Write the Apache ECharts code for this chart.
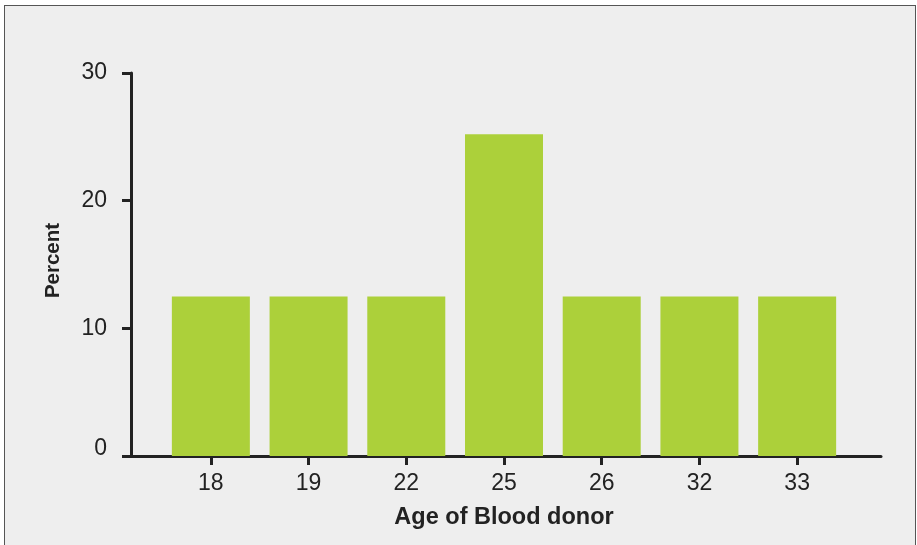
<!DOCTYPE html>
<html>
<head>
<meta charset="utf-8">
<script src="https://cdn.jsdelivr.net/npm/echarts@6/dist/echarts.min.js"></script>
<style>
  html, body { margin: 0; padding: 0; background: #ffffff; }
  #frame { position: absolute; left: 4px; top: 5px; width: 910px; height: 560px;
           border: 1px solid #555555; background: #eeeeee; }
  #chart { position: absolute; left: 0; top: 0; width: 917px; height: 545px; }
</style>
</head>
<body>
<div id="frame"></div>
<div id="chart"></div>
<script>
const categories = ['18', '19', '22', '25', '26', '32', '33'];
const percentValues = [12.5, 12.5, 12.5, 25.2, 12.5, 12.5, 12.5];
const yTicks = { min: 0, max: 30, interval: 10 };
const xTitle = 'Age of Blood donor';
const yTitle = 'Percent';

const FONT = '"Liberation Sans", Arial, Helvetica, sans-serif';
const INK = '#222222';

const chart = echarts.init(document.getElementById('chart'), null, { renderer: 'canvas' });
chart.setOption({
  backgroundColor: 'transparent',
  animation: false,
  grid: [
    { left: 131, right: 36, top: 73, bottom: 89, containLabel: false },
    { left: 162, right: 71, top: 73, bottom: 89, containLabel: false }
  ],
  xAxis: [
    {
      gridIndex: 0, type: 'value', min: 0, max: 1,
      axisLine: { show: true, lineStyle: { color: INK, width: 3 } },
      axisTick: { show: false }, axisLabel: { show: false }, splitLine: { show: false }
    },
    {
      gridIndex: 1, type: 'category', data: categories,
      axisLine: { show: false },
      axisTick: { show: true, alignWithLabel: true, length: 9, lineStyle: { color: INK, width: 3 } },
      axisLabel: { color: INK, fontSize: 23, fontFamily: FONT, margin: 16 },
      splitLine: { show: false },
      name: xTitle, nameLocation: 'middle', nameGap: 50,
      nameTextStyle: { color: INK, fontSize: 23.5, fontWeight: 'bold', fontFamily: FONT }
    }
  ],
  yAxis: [
    {
      gridIndex: 0, type: 'value', min: yTicks.min, max: yTicks.max, interval: yTicks.interval,
      axisLine: { show: true, lineStyle: { color: INK, width: 3 } },
      axisTick: { show: true, length: 9, lineStyle: { color: INK, width: 3 } },
      axisLabel: {
        color: INK, fontSize: 23, fontFamily: FONT, margin: 24,
        formatter: function (v) { return v === 0 ? '{z|0}' : String(v); },
        rich: { z: { color: INK, fontSize: 23, fontFamily: FONT, padding: [0, 0, 15, 0] } }
      },
      splitLine: { show: false },
      name: yTitle, nameLocation: 'middle', nameGap: 67, nameRotate: 90,
      nameTextStyle: { color: INK, fontSize: 20.5, fontWeight: 'bold', fontFamily: FONT, padding: [0, 0, 0, 8] }
    },
    {
      gridIndex: 1, type: 'value', min: yTicks.min, max: yTicks.max, show: false
    }
  ],
  series: [
    {
      type: 'bar', xAxisIndex: 1, yAxisIndex: 1,
      data: percentValues,
      barWidth: 78,
      itemStyle: { color: '#acd03a' },
      z: 1
    }
  ]
});
</script>
</body>
</html>
